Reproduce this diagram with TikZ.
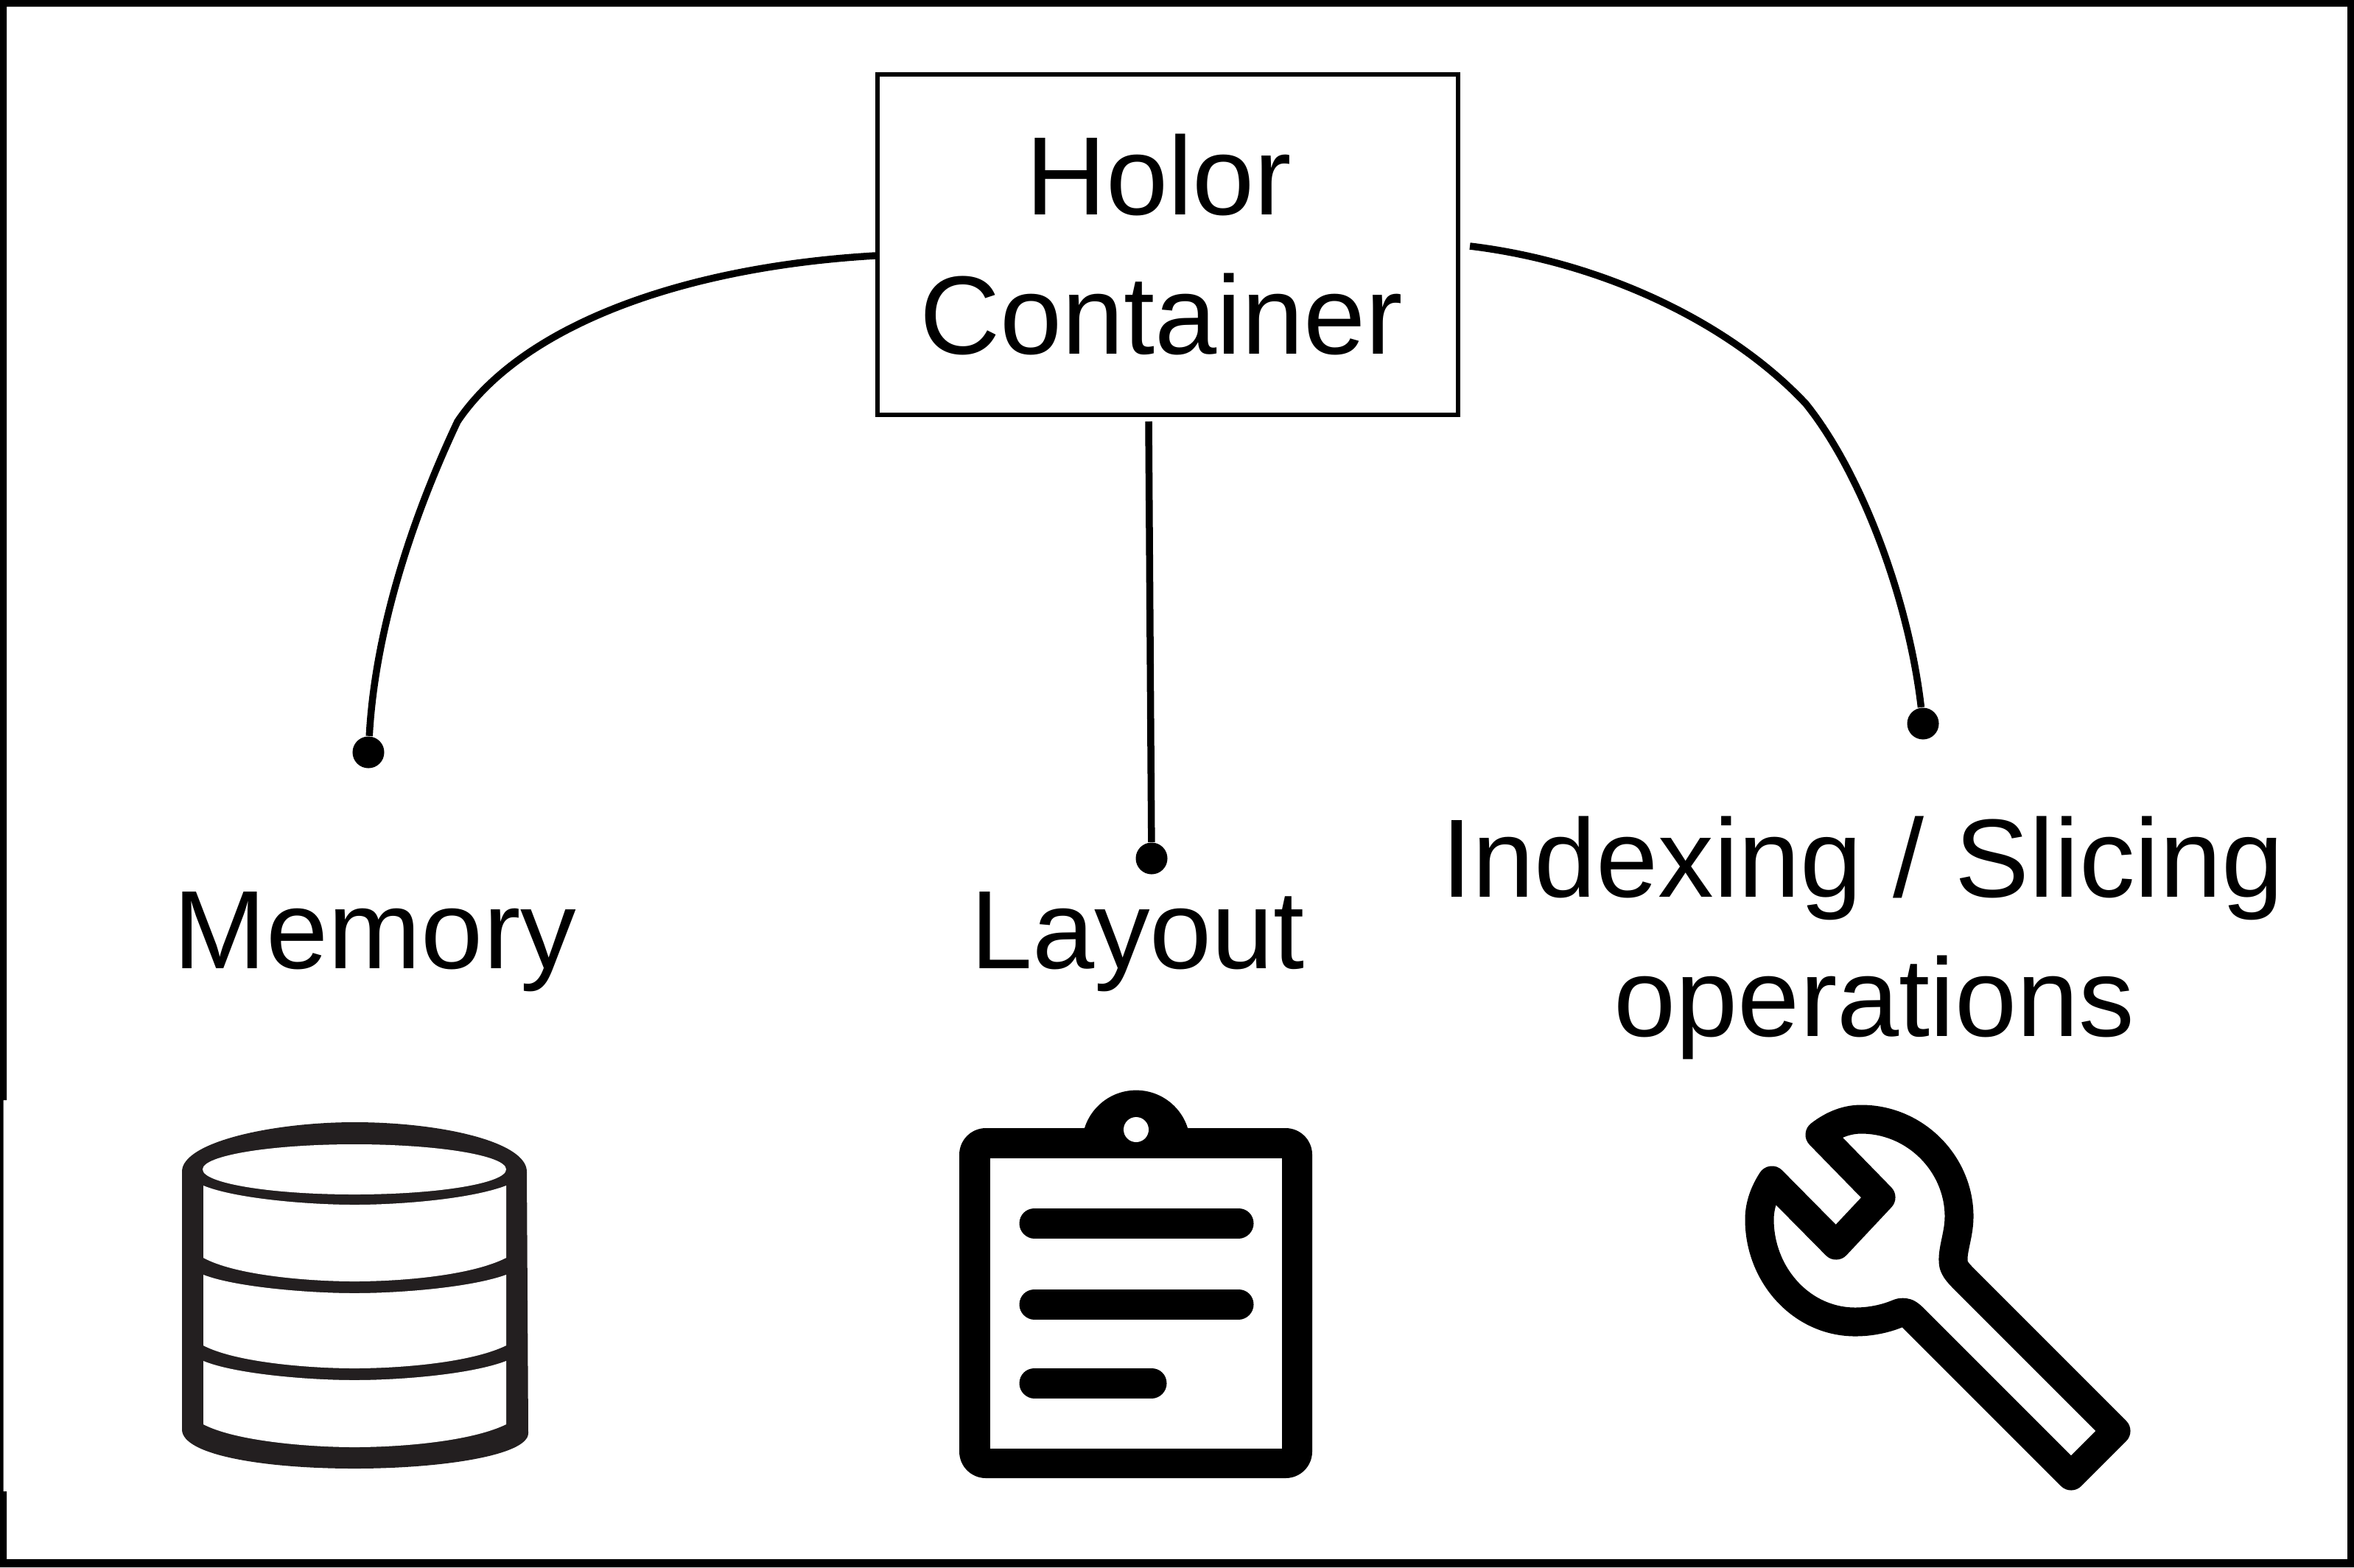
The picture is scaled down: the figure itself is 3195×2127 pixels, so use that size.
\documentclass[tikz,border=0pt]{standalone}
\usepackage{fontspec}
\setmainfont{Liberation Sans}
\definecolor{dbblack}{HTML}{231F20}
\tikzset{
    biglabel/.style={font=\fontsize{43}{53.5}\selectfont,inner sep=0pt,align=center},
    holorbox/.style={draw,line width=0.06cm,minimum width=7.88cm,minimum height=4.62cm,biglabel},
    enddot/.style={circle,fill,inner sep=0pt,minimum size=0.43cm},
    link/.style={line width=0.095cm},
}
\begin{document}
\begin{tikzpicture}[x=0.01cm,y=-0.01cm]
        \useasboundingbox (0,0) rectangle (3195,2127);
        % Outer frame, thinner along part of the left side
        \fill[even odd rule] (0,0) rectangle (3195,2127)
            (9,9) -- (3186,9) -- (3186,2116) -- (9,2116) -- (9,2024) -- (4.5,2024) -- (4.5,1493) -- (9,1493) -- cycle;
        % Container box
        \node[holorbox] (holor) at (1585,332) {Holor\hspace*{7pt}\\Container\hspace*{5pt}};
        % End dots
        \node[enddot] (dotmem) at (500,1021) {};
        \node[enddot] (dotlay) at (1563,1165) {};
        \node[enddot] (dotidx) at (2610,982) {};
        % Free ends and bends of the connectors
        \coordinate (memstart) at (1188,347);
        \coordinate (membend) at (621,572);
        \coordinate (laystart) at (1559,572);
        \coordinate (idxstart) at (1995,334);
        \coordinate (idxbend) at (2451,548);
        % Connectors
        \draw[link] (memstart) .. controls (930,362) and (710,440) .. (membend)
            .. controls (570,680) and (510,840) .. (dotmem);
        \draw[link] (laystart) -- (dotlay);
        \draw[link] (idxstart) .. controls (2170,355) and (2345,435) .. (idxbend)
            .. controls (2525,640) and (2590,810) .. (dotidx);
        % Labels
        \node[biglabel,anchor=base] (memlabel) at (509,1314) {Memory};
        \node[biglabel,anchor=base] (laylabel) at (1544,1314) {Layout};
        \node[biglabel,anchor=base] (idxlabel) at (2528,1406) {Indexing / Slicing\\\hspace*{9pt}operations};
        % Database icon
        \fill[dbblack] (247,1590) .. controls (247,1550) and (370,1523) .. (481,1523)
            .. controls (600,1523) and (715,1550) .. (715,1590) -- (717,1945)
            .. controls (717,1975) and (600,1993) .. (481,1993)
            .. controls (360,1993) and (247,1975) .. (247,1940) -- cycle;
        \fill[white] (481,1587) ellipse [x radius=206,y radius=34];
        \foreach \ya/\yb/\yc/\yd in {1609/1635/1707/1739,1730/1755/1826/1857,1847/1873/1933/1964}{
            \fill[white] (276,\ya) .. controls (320,\yb-8) and (420,\yb) .. (481,\yb)
                .. controls (545,\yb) and (640,\yb-8) .. (687,\ya) -- (687,\yc)
                .. controls (640,\yd-8) and (545,\yd) .. (481,\yd)
                .. controls (420,\yd) and (320,\yd-8) .. (276,\yc) -- cycle;
        }
        % Clipboard icon
        \fill[rounded corners=0.36cm] (1302,1531) rectangle (1781,2006);
        \fill (1542,1553) circle [radius=73.4];
        \fill[white] (1344,1572) rectangle (1740,1966);
        \fill[white] (1542,1533) circle [radius=17];
        \foreach \yl/\xe in {1660/1681,1770/1681,1877/1563}
            \draw[line width=0.41cm,line cap=round] (1404,\yl) -- (\xe,\yl);
        % Wrench icon
        \draw[line width=0.39cm,line join=round] (2470,1540) .. controls (2488,1526) and (2507,1519) .. (2526,1519)
            .. controls (2600,1519) and (2659,1580) .. (2659,1651)
            .. controls (2659,1675) and (2650,1695) .. (2651,1712)
            .. controls (2651,1720) and (2657,1727) .. (2666,1736)
            -- (2872,1942) -- (2811,2003) -- (2597,1789)
            .. controls (2589,1781) and (2584,1779) .. (2575,1783)
            .. controls (2558,1790) and (2538,1794) .. (2518,1794)
            .. controls (2445,1794) and (2388,1730) .. (2388,1655)
            .. controls (2388,1640) and (2392,1622) .. (2405,1602)
            -- (2492,1690) -- (2553,1625) -- cycle;
\end{tikzpicture}
\end{document}
